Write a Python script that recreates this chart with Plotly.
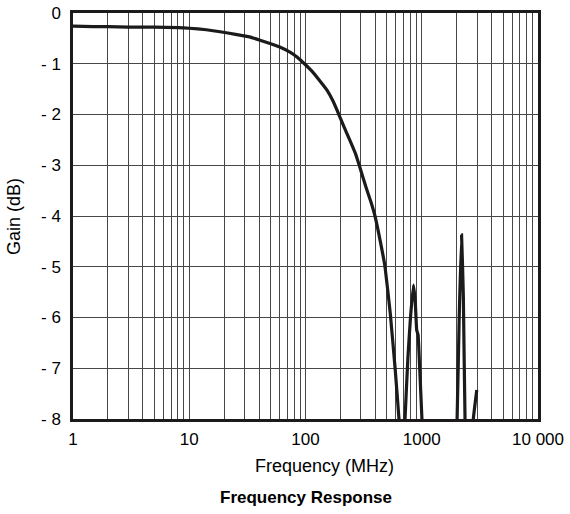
import plotly.graph_objects as go

# Measured frequency response (gain vs frequency); values below -8 dB fall off the plotted range
freq_mhz = [1, 1.5, 2, 3, 5, 8, 10, 14, 18.4, 25, 33, 40, 49.5, 60, 73.5, 85, 100, 115, 130,
            153, 172, 197, 215, 240, 270, 290, 330, 365, 396, 440, 483, 535, 590, 637, 665,
            700, 718, 760, 800, 848, 880, 905, 930, 960, 1004, 1050, 1950, 2014, 2100, 2200,
            2280, 2356, 2450, 2700, 2777, 2975]
gain_db = [-0.26, -0.27, -0.27, -0.28, -0.28, -0.29, -0.30, -0.33, -0.37, -0.42, -0.47, -0.53,
           -0.60, -0.67, -0.77, -0.87, -1.02, -1.16, -1.31, -1.52, -1.73, -2.04, -2.25, -2.5,
           -2.78, -3.0, -3.42, -3.72, -4.0, -4.5, -5.0, -5.9, -7.0, -8.0, -8.8, -8.8, -8.0,
           -6.8, -6.0, -5.36, -5.7, -6.25, -6.34, -7.0, -8.0, -8.8, -8.8, -8.0, -6.0, -4.37,
           -5.6, -8.0, -8.8, -8.8, -8.0, -7.43]

x_major = [1, 10, 100, 1000, 10000]
x_major_text = ["1", "10", "100", "1000", "10 000"]
x_minor = [m * d for d in (1, 10, 100, 1000) for m in range(2, 10)]
y_ticks = [0, -1, -2, -3, -4, -5, -6, -7, -8]
y_tick_text = ["0", "- 1", "- 2", "- 3", "- 4", "- 5", "- 6", "- 7", "- 8"]

FONT = "Liberation Sans, Arial, Helvetica, sans-serif"
GRID = "#474747"
AXIS = "#1c1a1b"

fig = go.Figure()
fig.add_trace(go.Scatter(
    x=freq_mhz, y=gain_db, mode="lines",
    line=dict(color=AXIS, width=3.2, shape="spline", smoothing=0.3),
    showlegend=False, hoverinfo="skip",
))

fig.update_layout(
    width=570, height=514,
    margin=dict(l=73, r=32, t=13, b=95, autoexpand=False),
    paper_bgcolor="white", plot_bgcolor="white",
    font=dict(family=FONT, size=17, color="black"),
    xaxis=dict(
        type="log", range=[0, 4], automargin=False,
        tickmode="array", tickvals=x_major, ticktext=x_major_text,
        showgrid=True, gridcolor=GRID, gridwidth=1.3,
        minor=dict(tickmode="array", tickvals=x_minor, showgrid=True,
                   gridcolor=GRID, gridwidth=1.3, ticks=""),
        ticks="", ticklabelstandoff=3,
        showline=True, linecolor=AXIS, linewidth=2.5, mirror=True,
        zeroline=False,
    ),
    yaxis=dict(
        range=[-8, 0], automargin=False,
        tickmode="array", tickvals=y_ticks, ticktext=y_tick_text,
        showgrid=True, gridcolor=GRID, gridwidth=1.3,
        ticks="", ticklabelstandoff=6,
        showline=True, linecolor=AXIS, linewidth=2.5, mirror=True,
        zeroline=False,
    ),
    annotations=[
        dict(text="Frequency (MHz)", xref="paper", yref="paper",
             x=0.54, y=-0.116, xanchor="center", yanchor="middle",
             showarrow=False, font=dict(size=18, family=FONT)),
        dict(text="Gain (dB)", xref="paper", yref="paper",
             x=-0.127, y=0.5, xanchor="center", yanchor="middle", textangle=-90,
             showarrow=False, font=dict(size=18, family=FONT)),
        dict(text="<b>Frequency Response</b>", xref="paper", yref="paper",
             x=0.5, y=-0.194, xanchor="center", yanchor="middle",
             showarrow=False, font=dict(size=17, family=FONT)),
    ],
)

fig.write_html("out.html")
